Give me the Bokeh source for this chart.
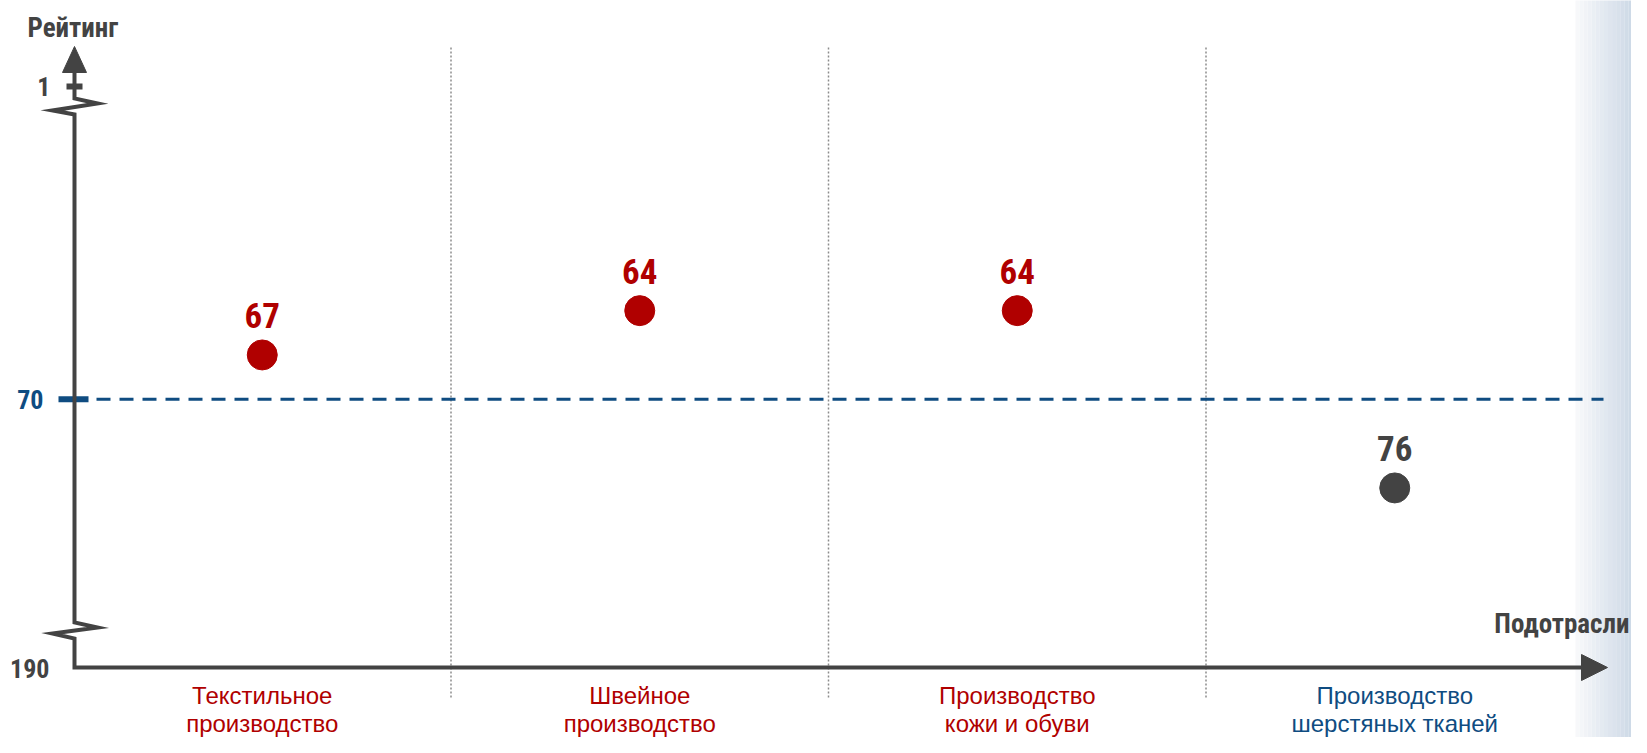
from bokeh.plotting import figure
from bokeh.models import Range1d, ColumnDataSource
from bokeh.core.properties import value
from bokeh.embed import file_html
from bokeh.resources import INLINE

# ---------------- data ----------------
categories = ["Текстильное\nпроизводство", "Швейное\nпроизводство",
              "Производство\nкожи и обуви", "Производство\nшерстяных тканей"]
ratings = [67, 64, 64, 76]
highlight = [True, True, True, False]
threshold = 70
rank_top_label = "1"
rank_bottom_label = "190"
y_title = "Рейтинг"
x_title = "Подотрасли"

# ---------------- style / layout ----------------
RED = "#b00000"
BLUE = "#0f4c81"
DARK = "#434343"
SEP = "#8c8c8c"
BFONT = "Roboto Condensed, DejaVu Sans Condensed, Liberation Sans, sans-serif"
RFONT = "Liberation Sans, Arial, sans-serif"

W, H = 1631, 737
X0, SEC = 73.0, 377.5                     # px of section start, px per section
RANK_REF, PY_REF, PX_PER_RANK = 68.2, 372.18, 14.775


def dx(px):
    return (px - X0) / SEC


def dy(py):
    return RANK_REF + (py - PY_REF) / PX_PER_RANK


p = figure(width=W, height=H, output_backend="svg", toolbar_location=None,
           x_range=Range1d(dx(0), dx(W)),
           y_range=Range1d(dy(H), dy(0)),
           x_axis_type=None, y_axis_type=None, min_border=0)
p.grid.visible = False
p.outline_line_color = None
p.background_fill_color = "white"
p.border_fill_color = "white"

# right-edge gradient
n_bands = 16
g0, g1 = (247, 248, 250), (200, 213, 228)
gx0, gx1 = 1575, 1640
bl, br, bc = [], [], []
for i in range(n_bands):
    t = i / (n_bands - 1)
    c = tuple(int(round(a + (b - a) * t)) for a, b in zip(g0, g1))
    bl.append(dx(gx0 + (gx1 - gx0) * i / n_bands))
    br.append(dx(gx0 + (gx1 - gx0) * (i + 1) / n_bands))
    bc.append("#%02x%02x%02x" % c)
p.quad(left=bl, right=br, bottom=dy(H + 5), top=dy(-5),
       fill_color=bc, line_color=None)

n = len(categories)
xs = [i + 0.5 for i in range(n)]

# dotted separators
seps = list(range(1, n))
p.segment(x0=seps, x1=seps, y0=[dy(47)] * len(seps), y1=[dy(698)] * len(seps),
          line_color=SEP, line_width=1.5, line_dash="2 2")

# threshold dashed line
p.segment(x0=[dx(96)], x1=[dx(1603)], y0=[threshold], y1=[threshold],
          line_color=BLUE, line_width=3, line_dash="14 9")
p.segment(x0=[dx(58)], x1=[dx(88)], y0=[threshold], y1=[threshold],
          line_color=BLUE, line_width=6)

# axes with breaks
ax_x = [74, 74, 97, 52, 74, 74, 97, 52, 74, 74, 1582]
ax_y = [72, 98, 103, 110, 114, 622, 627, 633, 638, 667, 667]
p.line([dx(v) for v in ax_x], [dy(v) for v in ax_y], line_color=DARK,
       line_width=4, line_join="miter")
p.patch([dx(62), dx(86), dx(74)], [dy(72), dy(72), dy(46)], color=DARK)
p.patch([dx(1581), dx(1581), dx(1607)], [dy(654), dy(680), dy(667)], color=DARK)
p.segment(x0=[dx(66)], x1=[dx(82)], y0=[dy(86)], y1=[dy(86)],
          line_color=DARK, line_width=6)

# axis labels
p.text(x=[dx(50)], y=[dy(86)], text=[rank_top_label], text_align="right",
       text_baseline="middle", text_font=value(BFONT), text_font_style="bold",
       text_font_size="26px", text_color=DARK)
p.text(x=[dx(49)], y=[dy(668)], text=[rank_bottom_label], text_align="right",
       text_baseline="middle", text_font=value(BFONT), text_font_style="bold",
       text_font_size="26px", text_color=DARK)
p.text(x=[dx(43)], y=[threshold], text=[str(threshold)], text_align="right",
       text_baseline="middle", text_font=value(BFONT), text_font_style="bold",
       text_font_size="26px", text_color=BLUE)
p.text(x=[dx(27)], y=[dy(27)], text=[y_title], text_align="left",
       text_baseline="middle", text_font=value(BFONT), text_font_style="bold",
       text_font_size="27px", text_color=DARK)
p.text(x=[dx(1629)], y=[dy(623)], text=[x_title], text_align="right",
       text_baseline="middle", text_font=value(BFONT), text_font_style="bold",
       text_font_size="27px", text_color=DARK)

# points
dot_colors = [RED if h else DARK for h in highlight]
lab_colors = [RED if h else BLUE for h in highlight]
line1 = [c.split("\n")[0] for c in categories]
line2 = [c.split("\n")[1] for c in categories]
src = ColumnDataSource(dict(x=xs, y=ratings, lbl=[str(r) for r in ratings],
                            c=dot_colors, l1=line1, l2=line2, lc=lab_colors))
p.scatter(x="x", y="y", source=src, size=30, fill_color="c", line_color="c")
p.text(x="x", y="y", text="lbl", source=src, y_offset=-39,
       text_align="center", text_baseline="middle", text_font=value(BFONT),
       text_font_style="bold", text_font_size="35px", text_color="c")

# category labels
p.text(x="x", y=dy(695), text="l1", source=src, text_align="center",
       text_baseline="middle", text_font=value(RFONT), text_font_size="24px",
       text_color="lc")
p.text(x="x", y=dy(723), text="l2", source=src, text_align="center",
       text_baseline="middle", text_font=value(RFONT), text_font_size="24px",
       text_color="lc")

open("out.html", "w").write(file_html(p, INLINE))
